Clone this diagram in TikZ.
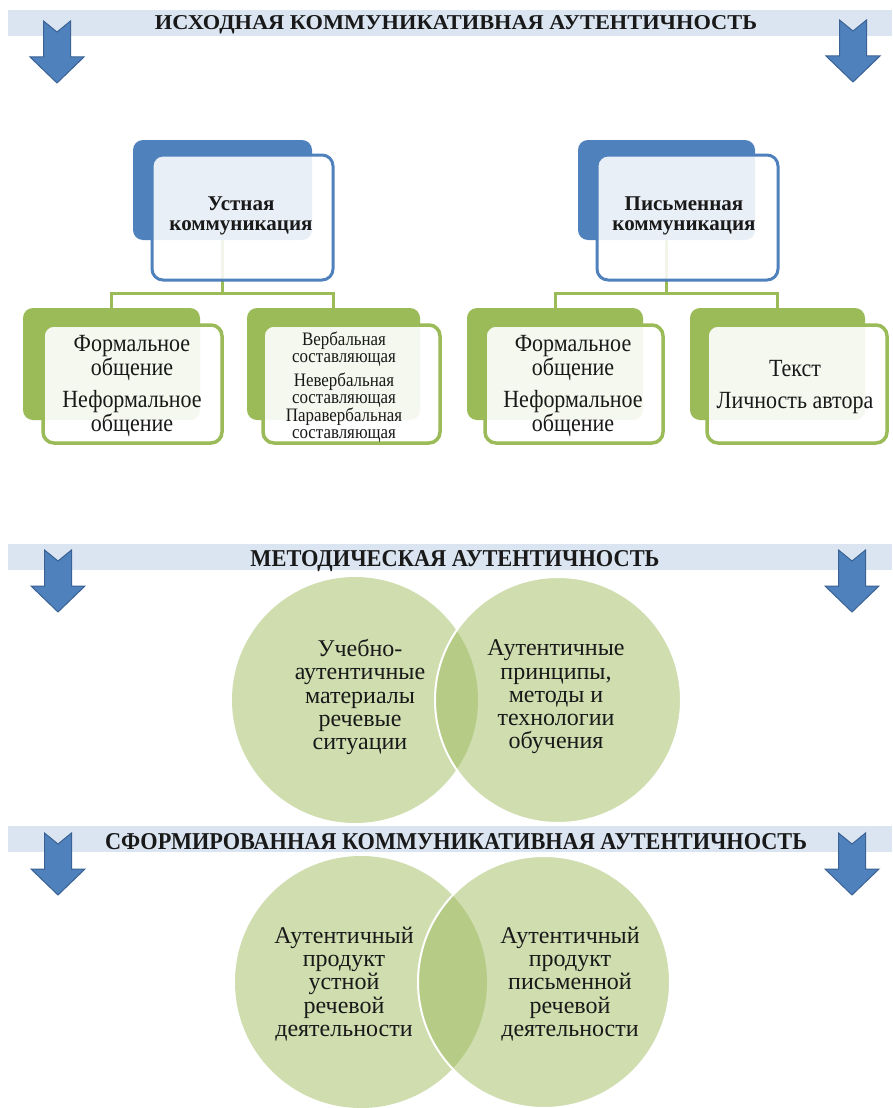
\documentclass[tikz,border=0pt]{standalone}
\usepackage{fontspec}
\setmainfont{Liberation Serif}
\newfontfamily\nser[FakeStretch=0.89]{Liberation Serif}
\usepackage{graphicx}
\definecolor{banfill}{RGB}{219,229,241}
\definecolor{cblue}{RGB}{79,129,189}
\definecolor{cbluedk}{RGB}{58,98,148}
\definecolor{cgreen}{RGB}{155,187,89}
\definecolor{circfill}{RGB}{207,221,175}
\definecolor{circdark}{RGB}{182,203,134}
\definecolor{txt}{RGB}{25,25,25}
\tikzset{
  pics/downarr/.style={code={
    \draw[fill=cblue, draw=cbluedk, line width=1pt, line join=miter]
      (-13.5,0) -- (0,11) -- (13.5,0) -- (13.5,36) -- (27,36) -- (0,62)
      -- (-27,36) -- (-13.5,36) -- cycle;}},
  banner/.style={rectangle, fill=banfill, inner sep=0pt, outer sep=0pt,
    minimum width=884pt, minimum height=26pt},
  bantext/.style={anchor=base, inner sep=0pt, text=txt, font=\bfseries},
  backblue/.style={rectangle, rounded corners=10pt, fill=cblue, inner sep=0pt, outer sep=0pt},
  backgreen/.style={rectangle, rounded corners=10pt, fill=cgreen, inner sep=0pt, outer sep=0pt},
  frontblue/.style={rectangle, rounded corners=11pt, draw=cblue, line width=3pt,
    fill=white, fill opacity=0.88, inner sep=0pt, outer sep=0pt},
  frontgreen/.style={rectangle, rounded corners=11pt, draw=cgreen, line width=3.5pt,
    fill=white, fill opacity=0.9, inner sep=0pt, outer sep=0pt},
  conn/.style={draw=cgreen, line width=3pt},
  ptext/.style={align=center, text=txt, inner sep=0pt, font=\fontsize{21}{20}\selectfont\bfseries},
  ctext/.style={align=center, text=txt, inner sep=0pt, font=\nser\fontsize{24.7}{21.5}\selectfont},
  stext/.style={align=center, text=txt, inner sep=0pt, font=\nser\fontsize{19}{17.3}\selectfont},
  circ/.style={circle, fill=circfill, inner sep=0pt, outer sep=0pt},
  vtext/.style={align=center, text=txt, inner sep=0pt, font=\fontsize{24}{23.3}\selectfont},
}
\begin{document}
\begin{tikzpicture}[x=1pt,y=-1pt]
\useasboundingbox (0,0) rectangle (892,1108);
\fill[white] (0,0) rectangle (892,1108);

% ---------- banner 1
\node[banner] (ban1) at (450,23.5) {};
\node[bantext] (ban1t) at (456,30) {\resizebox{602pt}{14pt}{ИСХОДНАЯ КОММУНИКАТИВНАЯ АУТЕНТИЧНОСТЬ}};
\pic at (57,21) {downarr};
\pic at (853,20) {downarr};

% ---------- hierarchy
\node[backblue, minimum width=179pt, minimum height=100pt] (pLb) at (222.5,190) {};
\node[backblue, minimum width=177pt, minimum height=100pt] (pRb) at (666.5,190) {};

\node[backgreen, minimum width=177pt, minimum height=112pt] (c1b) at (111.5,364) {};
\node[backgreen, minimum width=173pt, minimum height=112pt] (c2b) at (333.5,364) {};
\node[backgreen, minimum width=176pt, minimum height=112pt] (c3b) at (555,364) {};
\node[backgreen, minimum width=175pt, minimum height=112pt] (c4b) at (777.5,364) {};

\coordinate (busL) at (222.5,293);
\coordinate (busR) at (666.5,293);
\draw[conn] (pLb.south) -- (busL);
\draw[conn] (c1b.north) |- (busL) -| (c2b.north);
\draw[conn] (pRb.south) -- (busR);
\draw[conn] (c3b.north) |- (busR) -| (c4b.north);

\node[frontblue, minimum width=181pt, minimum height=125pt] (pLf) at (242.5,217.5) {};
\node[frontblue, minimum width=181pt, minimum height=125pt] (pRf) at (687.5,217.5) {};
\node[frontgreen, minimum width=179pt, minimum height=118pt] (c1f) at (132.5,384) {};
\node[frontgreen, minimum width=177pt, minimum height=118pt] (c2f) at (351.5,384) {};
\node[frontgreen, minimum width=178pt, minimum height=118pt] (c3f) at (574,384) {};
\node[frontgreen, minimum width=180pt, minimum height=118pt] (c4f) at (797,384) {};

\node[ptext] (pLt) at (241,216) {Устная\\коммуникация};
\node[ptext] (pRt) at (684,216) {Письменная\\коммуникация};
\node[ctext] (c1t) at (132,386) {Формальное\\общение\\[8.5pt]Неформальное\\общение};
\node[stext] (c2t) at (344,387) {Вербальная\\составляющая\\[5pt]Невербальная\\составляющая\\[-1pt]Паравербальная\\составляющая};
\node[ctext] (c3t) at (573,386) {Формальное\\общение\\[8.5pt]Неформальное\\общение};
\node[ctext] (c4t) at (795,387) {Текст\\[10pt]Личность автора};

% ---------- banner 2
\node[banner] (ban2) at (450,556.5) {};
\node[bantext] (ban2t) at (455,566) {\resizebox{409pt}{16pt}{МЕТОДИЧЕСКАЯ АУТЕНТИЧНОСТЬ}};
\pic at (58,550) {downarr};
\pic at (852,550) {downarr};

% ---------- venn 1
\node[circ, minimum size=246pt] (m1) at (355,700) {};
\node[circ, minimum size=246pt] (m2) at (558,700) {};
\begin{scope}
  \clip (355,700) circle (123pt);
  \fill[circdark] (558,700) circle (123pt);
\end{scope}
\draw[white, line width=2pt] (558,700) circle (123pt);
\node[vtext] (m1t) at (360,697) {Учебно-\\аутентичные\\материалы\\речевые\\ситуации};
\node[vtext] (m2t) at (556,697) {Аутентичные\\принципы,\\методы и\\технологии\\обучения};

% ---------- banner 3
\node[banner] (ban3) at (450,839) {};
\node[bantext] (ban3t) at (456,849) {\resizebox{702pt}{16pt}{СФОРМИРОВАННАЯ КОММУНИКАТИВНАЯ АУТЕНТИЧНОСТЬ}};
\pic at (58,833) {downarr};
\pic at (852,833) {downarr};

% ---------- venn 2
\node[circ, minimum size=252pt] (n1) at (361,982) {};
\node[circ, minimum size=252pt] (n2) at (544,982) {};
\begin{scope}
  \clip (361,982) circle (126pt);
  \fill[circdark] (544,982) circle (126pt);
\end{scope}
\draw[white, line width=2pt] (544,982) circle (126pt);
\node[vtext] (n1t) at (344,984) {Аутентичный\\продукт\\устной\\речевой\\деятельности};
\node[vtext] (n2t) at (570,984) {Аутентичный\\продукт\\письменной\\речевой\\деятельности};
\end{tikzpicture}
\end{document}
